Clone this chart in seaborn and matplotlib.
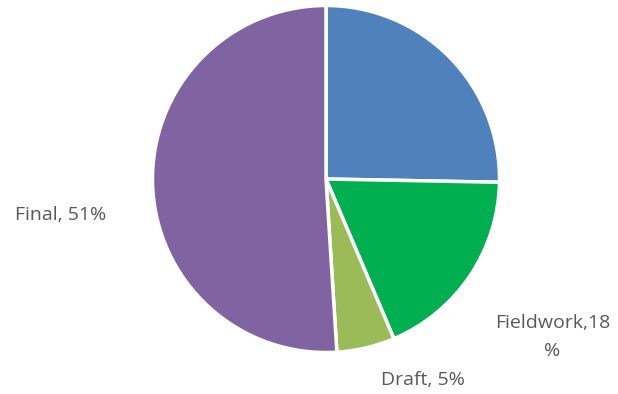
import matplotlib
matplotlib.use("Agg")
import matplotlib.pyplot as plt
import seaborn as sns

categories = ["", "Fieldwork", "Draft", "Final"]
values = [25.3, 18.3, 5.4, 51.0]
label_texts = ["", "Fieldwork,18\n%", "Draft, 5%", "Final, 51%"]
colors = ["#4F81BD", "#00B050", "#9BBB59", "#8064A2"]

sns.set_theme(style="white")
plt.rcParams['font.family'] = ['Open Sans', 'DejaVu Sans']

W, H = 618, 394
fig = plt.figure(figsize=(W / 100, H / 100), dpi=100)
cx, cy, r = 326, 179, 173.5
ax = fig.add_axes([(cx - r) / W, (H - cy - r) / H, 2 * r / W, 2 * r / H])

wedges, texts = ax.pie(values, colors=colors, startangle=90, counterclock=False,
                       radius=1, labels=label_texts,
                       wedgeprops=dict(edgecolor='white', linewidth=2.5),
                       textprops=dict(color='#595959', fontsize=14))
ax.set_xlim(-1, 1)
ax.set_ylim(-1, 1)
ax.set_aspect('equal')
ax.axis('off')

label_pos = [(0, 0), (1.305, -0.911), (0.557, -1.158), (-1.532, -0.207)]
for t, (x, y) in zip(texts, label_pos):
    t.set_position((x, y))
    t.set_ha('center')
    t.set_va('center')
    t.set_multialignment('center')
    t.set_clip_on(False)
    t.set_linespacing(1.7)

fig.savefig("out.png", dpi=100)
